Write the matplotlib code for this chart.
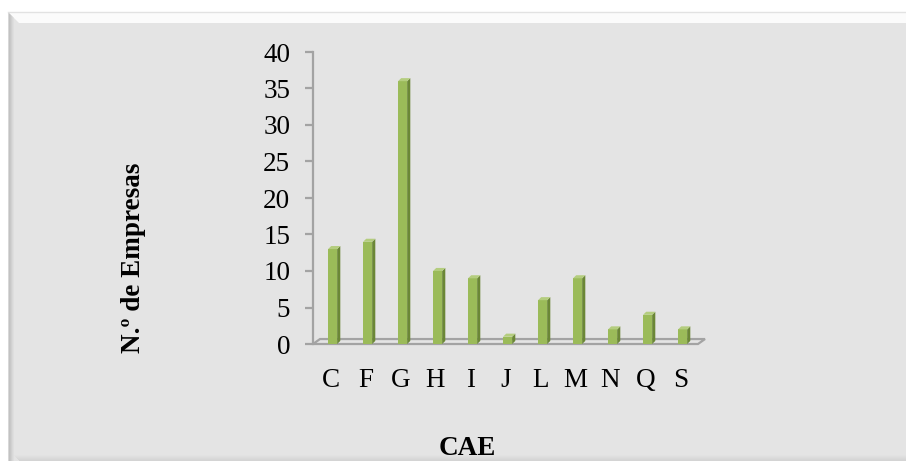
import matplotlib
matplotlib.use("Agg")
import matplotlib.pyplot as plt
from matplotlib.patches import Polygon, Rectangle
import numpy as np

# Data
categories = ["C", "F", "G", "H", "I", "J", "L", "M", "N", "Q", "S"]
empresas = [13, 14, 36, 10, 9, 1, 6, 9, 2, 4, 2]
y_ticks = [0, 5, 10, 15, 20, 25, 30, 35, 40]

plt.rcParams["font.family"] = ["Liberation Serif", "DejaVu Serif"]

W, H = 906, 461
fig = plt.figure(figsize=(W / 100, H / 100), dpi=100)
fig.patch.set_facecolor("white")

# Chart-area backdrop (pixel coordinates)
bg = fig.add_axes([0, 0, 1, 1], zorder=0)
bg.set_xlim(0, W)
bg.set_ylim(H, 0)
bg.axis("off")
bg.add_patch(Rectangle((8, 12), W, H, color="#e4e4e4", lw=0))
# top bevel
bg.add_patch(Polygon([(8, 12), (W, 12), (W, 23), (19, 23)], closed=True,
                     color="#fbfbfb", lw=0))
bg.plot([8, W], [12.5, 12.5], color="#e2e2e2", lw=1)
# left bevel
left_cols = ["#d8d8d8", "#c2c2c2", "#c8c8c8", "#d0d0d0", "#d8d8d8", "#dedede"]
for i, c in enumerate(left_cols):
    bg.add_patch(Polygon([(8 + i, 12 + i), (9 + i, 13 + i), (9 + i, H), (8 + i, H)],
                         closed=True, color=c, lw=0))
# bottom shading
bot_cols = ["#e2e2e2", "#dfdfdf", "#dcdcdc", "#d9d9d9", "#d6d6d6", "#d4d4d4"]
for i, c in enumerate(bot_cols):
    bg.add_patch(Rectangle((14 + i, 455 + i), W, 1, color=c, lw=0))

# Plot axes
ax = fig.add_axes([313 / W, (H - 344) / H, (698 - 313) / W, (344 - 52) / H], zorder=1)
ax.patch.set_alpha(0)
n = len(categories)
ax.set_xlim(-0.5, n - 0.5)
ax.set_ylim(0, 40)

axis_gray = "#a3a3a3"

# floor of the 3D plot area
fdx, fdy = 0.2, 0.68
floor = Polygon([(-0.5, 0), (n - 0.5, 0), (n - 0.5 + fdx, fdy), (-0.5 + fdx, fdy)],
                closed=True, facecolor="none", edgecolor=axis_gray, lw=1.6,
                clip_on=False, zorder=2)
ax.add_patch(floor)

# 3D-style columns
x = np.arange(n) + 0.06
bw = 0.26
sdx, sdy = 0.09, 0.42
ax.bar(x, empresas, width=bw, color="#9bbb59", lw=0, zorder=3)
for xi, v in zip(x, empresas):
    xl, xr = xi - bw / 2, xi + bw / 2
    ax.add_patch(Polygon([(xr, 0), (xr + sdx, sdy), (xr + sdx, v + sdy), (xr, v)],
                         closed=True, color="#6b8736", lw=0, zorder=3, clip_on=False))
    ax.add_patch(Polygon([(xl, v), (xr, v), (xr + sdx, v + sdy), (xl + sdx, v + sdy)],
                         closed=True, color="#b4cd7e", lw=0, zorder=3, clip_on=False))

for s in ["top", "right", "bottom"]:
    ax.spines[s].set_visible(False)
ax.spines["left"].set_color(axis_gray)
ax.spines["left"].set_linewidth(1.6)

ax.set_yticks(y_ticks)
ax.set_xticks(np.arange(n))
ax.set_xticklabels(categories)
ax.tick_params(axis="y", direction="out", length=5.8, width=1.6, color=axis_gray,
               pad=10.5, labelsize=19.5)
ax.tick_params(axis="x", length=0, pad=17, labelsize=19.5)

fig.text(133 / W, 1 - 258 / H, "N.º de Empresas", rotation=90, ha="center",
         va="center", fontsize=19.5, fontweight="bold")
fig.text(467 / W, 1 - 448 / H, "CAE", ha="center", va="center",
         fontsize=19.5, fontweight="bold")

fig.savefig("out.png", dpi=100, facecolor=fig.get_facecolor())
